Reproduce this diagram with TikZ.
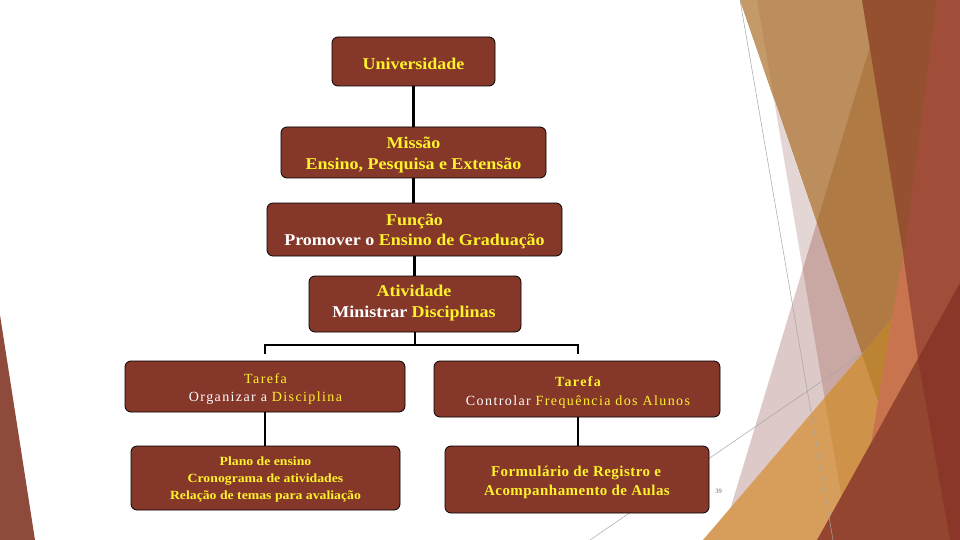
\documentclass[tikz,border=0pt]{standalone}
\usepackage{fontspec}
\setmainfont{Liberation Serif}
\newfontfamily\topfont[FakeStretch=1.09]{Liberation Serif}
\newfontfamily\tarfont[LetterSpace=10]{Liberation Serif}
\newfontfamily\forfont[LetterSpace=3]{Liberation Serif}
\newfontfamily\plafont[FakeStretch=1.1]{Liberation Serif}
\definecolor{boxfill}{HTML}{85372A}
\definecolor{ylw}{HTML}{FFF22A}
\definecolor{dpink}{HTML}{DDCAC8}
\definecolor{dtan}{HTML}{BC8D5D}
\definecolor{dltan}{HTML}{C39A68}
\definecolor{dmbrown}{HTML}{B07A45}
\definecolor{dlpink}{HTML}{E4D6D4}
\definecolor{dmauve}{HTML}{C9A8A4}
\definecolor{dorange}{HTML}{D79E5B}
\definecolor{ddorange}{HTML}{CF9249}
\definecolor{dgold}{HTML}{BB8332}
\definecolor{dsalmon}{HTML}{C9734F}
\definecolor{ddbrown}{HTML}{94502F}
\definecolor{drust}{HTML}{A04D39}
\definecolor{dred}{HTML}{93452F}
\definecolor{dred2}{HTML}{8A3729}
\definecolor{dleft}{HTML}{8E4A3B}
\begin{document}
\begin{tikzpicture}[x=1pt,y=-1pt,
  box/.style={draw=black, line width=0.8pt, fill=boxfill, rounded corners=6pt, inner sep=0pt},
  tl/.style={inner sep=0pt, anchor=base, text=ylw},
  topt/.style={tl, font=\topfont\bfseries\fontsize{16.5pt}{20pt}\selectfont},
  tart/.style={tl, font=\tarfont\fontsize{14pt}{18pt}\selectfont},
  fort/.style={tl, font=\forfont\bfseries\fontsize{15pt}{18pt}\selectfont},
  plat/.style={tl, font=\plafont\bfseries\fontsize{12.5pt}{16pt}\selectfont},
  conn/.style={line width=2.8pt, black},
  thin/.style={line width=0.5pt, gray!70}]
\useasboundingbox (0,0) rectangle (960,540);
\fill[white] (0,0) rectangle (960,540);
% left decoration
\fill[dleft] (0,315) -- (35,540) -- (0,540) -- cycle;
% right decoration
\fill[dpink] (816.7,223) -- (720.9,540) -- (960,540) -- (960,223) -- cycle;
\fill[dtan] (740,0) -- (960,0) -- (960,540) -- (925.8,540) -- cycle;
\fill[dltan] (740,0) -- (757,0) -- (773.7,98) -- cycle;
\fill[dmbrown] (884,0) -- (960,0) -- (960,540) -- (925.8,540) -- (816.7,223) -- cycle;
\fill[dlpink] (773.7,98) -- (816.7,223) -- (802.7,269) -- cycle;
\fill[dmauve] (816.7,223) -- (802.7,269) -- (824.6,397.8) -- (861.9,354.3) -- cycle;
\fill[dorange] (703,540) -- (892,319) -- (870.8,443.4) -- (817,540) -- cycle;
\fill[ddorange] (824.6,397.8) -- (861.9,354.3) -- (878,401.2) -- (870.8,443.4) -- (841.4,496.3) -- cycle;
\fill[dgold] (861.9,354.3) -- (892,319) -- (878,401.2) -- cycle;
\fill[dsalmon] (903,255) -- (918,359) -- (870.8,443.4) -- cycle;
\fill[ddbrown] (862,0) -- (937,0) -- (904,258) -- cycle;
\fill[drust] (937,0) -- (960,0) -- (960,283) -- (918,359) -- (903.5,257) -- cycle;
\fill[dred] (960,283) -- (817,540) -- (960,540) -- cycle;
\fill[dred2] (918,359) -- (960,283) -- (960,540) -- (950,540) -- cycle;
\draw[thin] (740,0) -- (833,540);
\draw[thin] (590,540) -- (863,353);
% boxes
\node[box, minimum width=163pt, minimum height=49pt] (u) at (413.5,61.5) {};
\node[box, minimum width=265pt, minimum height=51pt] (m) at (413.5,152.5) {};
\node[box, minimum width=295pt, minimum height=53pt] (f) at (414.5,229.5) {};
\node[box, minimum width=212pt, minimum height=56pt] (a) at (415,304) {};
\node[box, minimum width=280pt, minimum height=51pt] (t1) at (265,386.5) {};
\node[box, minimum width=286pt, minimum height=56pt] (t2) at (577,389) {};
\node[box, minimum width=269pt, minimum height=64pt] (p) at (265.5,478) {};
\node[box, minimum width=264pt, minimum height=67pt] (r) at (577,479.5) {};
% connectors
\coordinate (jl) at (265,345);
\coordinate (jr) at (578,345);
\coordinate (dl) at (265,354);
\coordinate (dr) at (578,354);
\draw[conn] (u.south) -- (u.south |- m.north);
\draw[conn] (m.south) -- (m.south |- f.north);
\draw[conn] (f.south) -- (f.south |- a.north);
\draw[conn] (a.south) -- (a.south |- jl);
\draw[conn] (dl) -- (jl) -- (jr) -- (dr);
\draw[conn] (t1.south) -- (t1.south |- p.north);
\draw[conn] (t2.south -| dr) -- (dr |- r.north);
% texts
\node[topt] (u1) at (413.5,69.3) {Universidade};
\node[topt] (m1) at (413.5,149) {Missão};
\node[topt] (m2) at (413.5,169.3) {Ensino, Pesquisa e Extensão};
\node[topt] (f1) at (414.5,225) {Função};
\node[topt] (f2) at (414.5,245) {\textcolor{white}{Promover o} Ensino de Graduação};
\node[topt] (a1) at (414,296.7) {Atividade};
\node[topt] (a2) at (414,317.5) {\textcolor{white}{Ministrar} Disciplinas};
\node[tart] (t1a) at (265.5,383.3) {Tarefa};
\node[tart] (t1b) at (265.5,401.7) {\textcolor{white}{Organizar a} Disciplina};
\node[tart, font=\tarfont\bfseries\fontsize{14pt}{18pt}\selectfont] (t2a) at (578,386) {Tarefa};
\node[tart] (t2b) at (578,405) {\textcolor{white}{Controlar} Frequência dos Alunos};
\node[plat] (p1) at (265.5,465) {Plano de ensino};
\node[plat] (p2) at (265.5,482.3) {Cronograma de atividades};
\node[plat] (p3) at (265.5,499) {Relação de temas para avaliação};
\node[fort] (r1) at (576,476.7) {Formulário de Registro e};
\node[fort] (r2) at (577,495) {Acompanhamento de Aulas};
\node[inner sep=0pt, anchor=base, text=gray!80!black, font=\fontsize{6.5pt}{7pt}\selectfont] (pg) at (718.5,493) {39};
\end{tikzpicture}
\end{document}
